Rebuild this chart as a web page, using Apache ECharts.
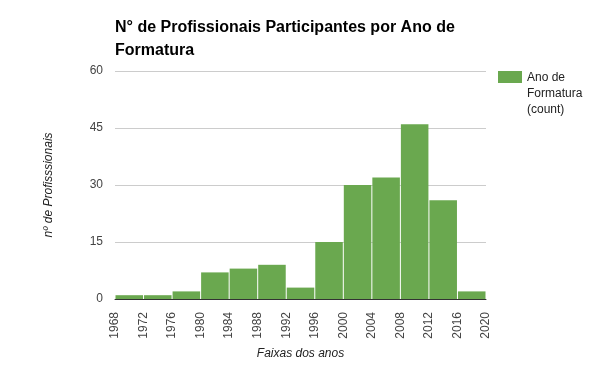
<!DOCTYPE html>
<html>
<head>
<meta charset="utf-8">
<script src="https://cdn.jsdelivr.net/npm/echarts@6/dist/echarts.min.js"></script>
<style>html,body{margin:0;padding:0;background:#fff}#c{width:600px;height:371px}</style>
</head>
<body>
<div id="c"></div>
<script>
const titleText = 'N° de Profissionais Participantes por Ano de\nFormatura';
const binStarts = [1968, 1972, 1976, 1980, 1984, 1988, 1992, 1996, 2000, 2004, 2008, 2012, 2016];
const binEnds   = [1972, 1976, 1980, 1984, 1988, 1992, 1996, 2000, 2004, 2008, 2012, 2016, 2020];
const counts    = [1, 1, 2, 7, 8, 9, 3, 15, 30, 32, 46, 26, 2];
const seriesName = 'Ano de\nFormatura\n(count)';
const xName = 'Faixas dos anos';
const yName = 'nº de Profisssionais';

const data = binStarts.map((s, i) => [s, binEnds[i], counts[i]]);
const font = 'Liberation Sans, Arial, sans-serif';
const chart = echarts.init(document.getElementById('c'));
chart.setOption({
  animation: false,
  title: {
    text: titleText, left: 110, top: 11,
    textStyle: { fontFamily: font, fontSize: 16, fontWeight: 'bold', color: '#000', lineHeight: 23 }
  },
  grid: { left: 115, right: 114, top: 71, bottom: 72 },
  xAxis: {
    type: 'value', min: 1968, max: 2020, interval: 4,
    name: xName, nameLocation: 'middle', nameGap: 49,
    nameTextStyle: { fontFamily: font, fontSize: 12, fontStyle: 'italic', color: '#222' },
    axisLine: { show: true, onZero: false, lineStyle: { color: '#333', width: 1 } },
    axisTick: { show: false },
    splitLine: { show: false },
    axisLabel: { rotate: 90, margin: 13, fontFamily: font, fontSize: 12, color: '#444', formatter: v => String(v) }
  },
  yAxis: {
    type: 'value', min: 0, max: 60, interval: 15,
    name: yName, nameLocation: 'middle', nameGap: 60,
    nameTextStyle: { fontFamily: font, fontSize: 12, fontStyle: 'italic', color: '#222' },
    axisLine: { show: false }, axisTick: { show: false },
    splitLine: { lineStyle: { color: '#ccc', width: 1 } },
    axisLabel: { margin: 12, fontFamily: font, fontSize: 12, color: '#444' }
  },
  graphic: [
    { type: 'rect', left: 498, top: 71, shape: { width: 24, height: 12 }, style: { fill: '#6aa84f' } },
    { type: 'text', left: 527, top: 70, style: { text: seriesName, font: '12px ' + font, fill: '#222', lineHeight: 16 } }
  ],
  series: [{
    type: 'custom', name: seriesName, data: data,
    encode: { x: [0, 1], y: 2 },
    renderItem: function (params, api) {
      const p0 = api.coord([api.value(0), 0]);
      const p1 = api.coord([api.value(1), api.value(2)]);
      return {
        type: 'rect',
        shape: { x: p0[0] + 0.5, y: p1[1], width: p1[0] - p0[0] - 1, height: p0[1] - p1[1] },
        style: { fill: '#6aa84f' }
      };
    }
  }]
});
</script>
</body>
</html>
